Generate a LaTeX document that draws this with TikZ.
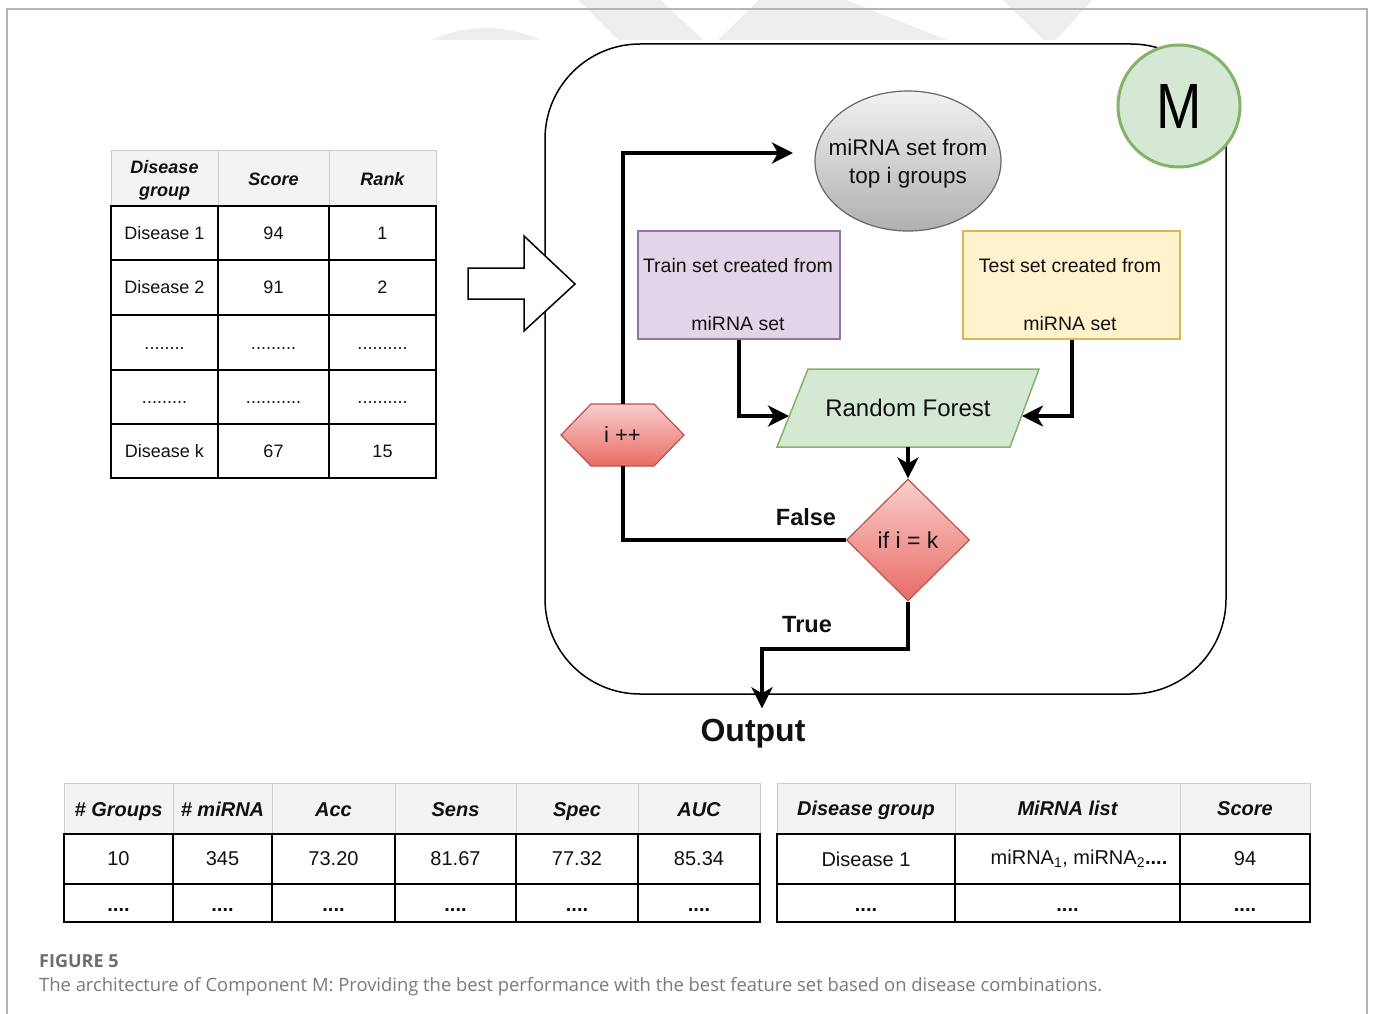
\documentclass[tikz,border=0pt]{standalone}
\usepackage{fontspec}
\usepackage{graphicx}
\setmainfont{Liberation Sans}
\newfontfamily\capfont{Open Sans}
\usetikzlibrary{shapes.geometric,arrows.meta,calc}
\definecolor{wm}{HTML}{EEEEEE}
\definecolor{frameline}{HTML}{B4B4B4}
\definecolor{hdrfill}{HTML}{F3F3F3}
\definecolor{hdrline}{HTML}{CDCDCD}
\definecolor{txt}{HTML}{111111}
\definecolor{mgreen}{HTML}{82B366}
\definecolor{mfill}{HTML}{D5E8D4}
\definecolor{ellline}{HTML}{666666}
\definecolor{elltop}{HTML}{F2F2F2}
\definecolor{ellbot}{HTML}{B0B0B0}
\definecolor{trainline}{HTML}{9673A6}
\definecolor{trainfill}{HTML}{E1D5E7}
\definecolor{testline}{HTML}{D6B656}
\definecolor{testfill}{HTML}{FFF2CC}
\definecolor{redline}{HTML}{B85450}
\definecolor{redtop}{HTML}{F8CECC}
\definecolor{redbot}{HTML}{EA6B66}
\definecolor{capgray}{HTML}{6E6E6E}
\definecolor{capgraytwo}{HTML}{7A7A7A}
\begin{document}
\begin{tikzpicture}[x=1pt,y=-1pt,
  tline/.style={line width=1.8pt, black},
  hline/.style={line width=1pt, hdrline},
  cellA/.style={font=\fontsize{18}{23}\selectfont, inner sep=0, text=txt},
  hcellA/.style={font=\bfseries\itshape\fontsize{18}{23}\selectfont, inner sep=0, align=center, text=txt},
  dotsA/.style={font=\fontsize{18}{23}\selectfont, inner sep=0, anchor=base, text=txt},
  cellB/.style={font=\fontsize{20}{24}\selectfont, inner sep=0, text=txt},
  hcellB/.style={font=\bfseries\itshape\fontsize{20}{24}\selectfont, inner sep=0, anchor=base, text=txt},
  dotsB/.style={font=\bfseries\fontsize{20}{24}\selectfont, inner sep=0, anchor=base, text=txt},
  boxtxt/.style={font=\fontsize{19.5}{29}\selectfont, inner sep=0, align=center, text=txt},
  conn/.style={line width=4pt, -{Stealth[length=21pt,width=21pt,inset=6pt]}},
  plainline/.style={line width=4pt},
  lbl/.style={font=\bfseries\fontsize{23.5}{28}\selectfont, inner sep=0, text=txt},
]
\useasboundingbox (0,0) rectangle (1373,1014);
\fill[white] (0,0) rectangle (1373,1014);
% watermark
\fill[wm] (432,40) .. controls (465,24) and (507,24) .. (540,40) -- cycle;
\fill[wm] (578,0) -- (661,0) -- (703,40) -- (618,40) -- cycle;
\fill[wm] (759,0) -- (846,0) -- (947,40) -- (718,40) -- cycle;
\fill[wm] (1003,0) -- (1092,0) -- (1056,40) -- (1044,40) -- cycle;
% page frame
\draw[frameline, line width=1.2pt] (7,1014) -- (7,9) -- (1367,9) -- (1367,1014);

% ---------- left table ----------
\fill[hdrfill] (111,151) rectangle (436,206);
\draw[hline] (111,206) -- (111,151) -- (436,151) -- (436,206) (218,151) -- (218,206) (329,151) -- (329,206);
\draw[tline] (111,206) rectangle (436,478);
\foreach \y in {260,315,370,424} \draw[tline] (111,\y) -- (436,\y);
\foreach \x in {218,329} \draw[tline] (\x,206) -- (\x,478);
\node[hcellA] (Lh1) at (164.5,180.5) {Disease\\group};
\node[hcellA, anchor=base] (Lh2) at (273.5,185) {Score};
\node[hcellA, anchor=base] (Lh3) at (382.5,185) {Rank};
\foreach \n/\x/\y/\t in {a1/164.5/233/Disease 1, a2/273.5/233/94, a3/382.5/233/1,
  b1/164.5/287.5/Disease 2, b2/273.5/287.5/91, b3/382.5/287.5/2,
  e1/164.5/451/Disease k, e2/273.5/451/67, e3/382.5/451/15}
  \node[cellA] (L\n) at (\x,\y) {\t};
\node[dotsA] (Lc1) at (164.5,349) {........};
\node[dotsA] (Lc2) at (273.5,349) {.........};
\node[dotsA] (Lc3) at (382.5,349) {..........};
\node[dotsA] (Ld1) at (164.5,403) {.........};
\node[dotsA] (Ld2) at (273.5,403) {...........};
\node[dotsA] (Ld3) at (382.5,403) {..........};

% ---------- block arrow & container ----------
\node[draw, line width=1.5pt, rounded corners=95pt, minimum width=681pt, minimum height=650pt, inner sep=0] (box) at (885.5,369) {};
\draw[line width=1.5pt, fill=white] (468,268) -- (524,268) -- (524,236) -- (575,284) -- (524,331) -- (524,299) -- (468,299) -- cycle;
\node[circle, draw=mgreen, line width=3pt, fill=mfill, minimum size=122pt, inner sep=0, font=\fontsize{64}{70}\selectfont] (M) at (1179,106) {\scalebox{0.85}[1]{M}};

% ---------- flow nodes ----------
\node[ellipse, draw=ellline, line width=1.2pt, top color=elltop, bottom color=ellbot, minimum width=186pt, minimum height=140pt, inner sep=0] (ell) at (908,161) {};
\node[align=center, inner sep=0, font=\fontsize{22.5}{28}\selectfont, text=txt] (ellt) at (908,164) {miRNA set from\\top i groups};
\coordinate (ellin) at (793,153);

\node[draw=trainline, fill=trainfill, line width=1.5pt, minimum width=202pt, minimum height=108pt, inner sep=0] (train) at (739,285) {};
\node[boxtxt] (traint) at (738,295) {Train set created from\\[29pt]miRNA set};
\node[draw=testline, fill=testfill, line width=1.5pt, minimum width=217pt, minimum height=108pt, inner sep=0] (test) at (1071.5,285) {};
\node[boxtxt] (testt) at (1070,295) {Test set created from\\[29pt]miRNA set};

\path[draw=mgreen, fill=mfill, line width=1.5pt] (808,369) -- (1039,369) -- (1010,447) -- (777,447) -- cycle;
\node[font=\fontsize{24}{28}\selectfont, minimum width=233pt, minimum height=78pt, inner sep=0, text=txt] (rf) at (908,408) {Random Forest};
\coordinate (rfL) at (789,416);
\coordinate (rfR) at (1022,416);

\path[draw=redline, line width=1.2pt, top color=redtop, bottom color=redbot] (561,435) -- (591,404) -- (654,404) -- (684,435) -- (654,466) -- (591,466) -- cycle;
\node[minimum width=123pt, minimum height=62pt, inner sep=0, font=\fontsize{22}{26}\selectfont, text=txt] (ipp) at (622.5,435) {i ++};

\node[diamond, draw=redline, line width=1.2pt, top color=redtop, bottom color=redbot, minimum width=123pt, minimum height=122pt, inner sep=0, font=\fontsize{23}{27}\selectfont, text=txt] (dia) at (908,540) {if i = k};

\node[font=\bfseries\fontsize{32}{38}\selectfont, inner sep=0, text=txt] (out) at (753,734) {Output};

% ---------- connectors ----------
\draw[conn] (ipp.north) |- (ellin);
\draw[plainline] (dia.west) -| (ipp.south);
\draw[conn] (train.south) |- (rfL);
\draw[conn] (test.south) |- (rfR);
\draw[conn] (rf.south) -- (dia.north);
\draw[conn] (dia.south) -- ++(0,47) -| ([shift={(9pt,11pt)}]out.north);
\node[lbl] (false) at (806,517) {False};
\node[lbl] (true) at (807,625) {True};

% ---------- bottom left table ----------
\fill[hdrfill] (64,783) rectangle (760,834);
\draw[hline] (64,834) -- (64,783) -- (760,783) -- (760,834);
\foreach \x in {173,272,395,516,638} \draw[hline] (\x,783) -- (\x,834);
\draw[tline] (64,834) rectangle (760,922);
\draw[tline] (64,884) -- (760,884);
\foreach \x in {173,272,395,516,638} \draw[tline] (\x,834) -- (\x,922);
\foreach \n/\x/\t in {1/118.5/\# Groups, 2/222.5/\# miRNA, 3/333.5/Acc, 4/455.5/Sens, 5/577/Spec, 6/699/AUC}
  \node[hcellB] (Bh\n) at (\x,816) {\t};
\foreach \n/\x/\t in {1/118.5/10, 2/222.5/345, 3/333.5/73.20, 4/455.5/81.67, 5/577/77.32, 6/699/85.34}
  \node[cellB] (Br\n) at (\x,859) {\t};
\foreach \n/\x in {1/118.5, 2/222.5, 3/333.5, 4/455.5, 5/577, 6/699}
  \node[dotsB] (Bd\n) at (\x,911) {....};

% ---------- bottom right table ----------
\fill[hdrfill] (777,783) rectangle (1310,834);
\draw[hline] (777,834) -- (777,783) -- (1310,783) -- (1310,834) (955,783) -- (955,834) (1180,783) -- (1180,834);
\draw[tline] (777,834) rectangle (1310,922);
\draw[tline] (777,884) -- (1310,884);
\foreach \x in {955,1180} \draw[tline] (\x,834) -- (\x,922);
\node[hcellB] (Ch1) at (866,815) {Disease group};
\node[hcellB] (Ch2) at (1067.5,815) {MiRNA list};
\node[hcellB] (Ch3) at (1245,815) {Score};
\node[cellB] (Cr1) at (866,859) {Disease 1};
\node[cellB] (Cr2) at (1079,859) {miRNA\textsubscript{1}, miRNA\textsubscript{2}{\bfseries ....}};
\node[cellB] (Cr3) at (1245,859) {94};
\node[dotsB] (Cd1) at (866,911) {....};
\node[dotsB] (Cd2) at (1067.5,911) {....};
\node[dotsB] (Cd3) at (1245,911) {....};

% ---------- caption ----------
\node[anchor=base west, inner sep=0, font=\capfont\bfseries\fontsize{18}{21}\selectfont, text=capgray] (fig) at (39,967) {FIGURE 5};
\node[anchor=base west, inner sep=0, font=\capfont\fontsize{18.4}{21}\selectfont, text=capgraytwo] (cap) at (39,991) {The architecture of Component M: Providing the best performance with the best feature set based on disease combinations.};
\end{tikzpicture}
\end{document}
